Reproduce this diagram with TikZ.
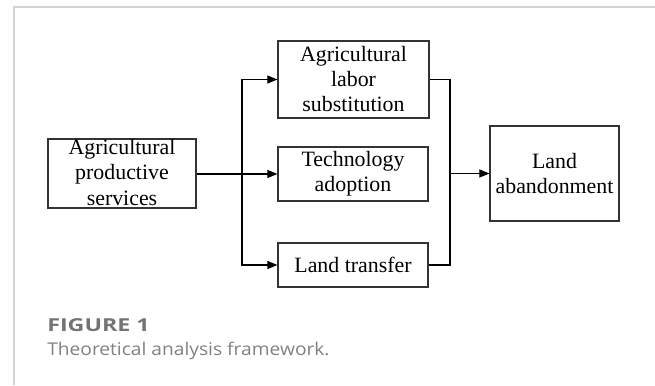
\documentclass[tikz,border=0pt]{standalone}
\usepackage{fontspec}
\setmainfont{Liberation Serif}
\newfontfamily\capboldfont{Open Sans}[FakeStretch=1.3]
\newfontfamily\capregfont{Open Sans}[FakeStretch=1.09]
\usetikzlibrary{arrows.meta}
\definecolor{framegray}{HTML}{D4D4D4}
\definecolor{capgray}{HTML}{737373}
\definecolor{boxgray}{HTML}{333333}
\tikzset{
  box/.style={draw=boxgray, line width=0.9pt, rectangle, inner sep=0pt},
  boxtext/.style={align=center, inner sep=0pt, font=\fontsize{16.4}{18.8}\selectfont},
  conn/.style={line width=0.8pt, black},
  arr/.style={conn, -{Triangle[length=7.5pt,width=6pt]}},
  frameline/.style={draw=framegray, line width=1.1pt},
  capbold/.style={anchor=base west, inner sep=0pt, text=capgray, font=\capboldfont\bfseries\fontsize{13.4}{15}\selectfont},
  captext/.style={anchor=base west, inner sep=0pt, text=capgray!90, font=\capregfont\fontsize{13.2}{15}\selectfont}
}
\begin{document}
\begin{tikzpicture}[x=0.75pt,y=-0.75pt]
\useasboundingbox (0,0) rectangle (655,385);
% frame
\draw[frameline] (14,385) -- (14,7) -- (655,7);
% boxes
\node[box, minimum width=148*0.75pt, minimum height=69*0.75pt] (A) at (122,173.5) {};
\node[boxtext] (At) at (122,172.5) {Agricultural\\productive\\services};
\node[box, minimum width=151*0.75pt, minimum height=77*0.75pt] (B1) at (353.5,79.5) {};
\node[boxtext] (B1t) at (353.5,79) {Agricultural\\labor\\substitution};
\node[box, minimum width=150*0.75pt, minimum height=54*0.75pt] (B2) at (353,174) {};
\node[boxtext] (B2t) at (353,174) {Technology\\adoption};
\node[box, minimum width=150*0.75pt, minimum height=44*0.75pt] (B3) at (353,265) {};
\node[boxtext] (B3t) at (353,265) {Land transfer};
\node[box, minimum width=129*0.75pt, minimum height=95*0.75pt] (C) at (554.5,173.5) {};
\node[boxtext] (Ct) at (554.5,173.5) {Land\\abandonment};
% junctions
\coordinate (j1) at (242,174);
\coordinate (j2) at (450,173.5);
% connectors
\draw[arr] (A.east |- B2.west) -- (B2.west);
\draw[arr] (j1) |- (B1.west);
\draw[arr] (j1) |- (B3.west);
\draw[conn] (B1.east) -| (j2);
\draw[conn] (B3.east) -| (j2);
\draw[arr] (j2) -- (C.west);
% caption
\node[capbold] (fig) at (47,331) {FIGURE 1};
\node[captext] (cap) at (47,355) {Theoretical analysis framework.};
\end{tikzpicture}
\end{document}
